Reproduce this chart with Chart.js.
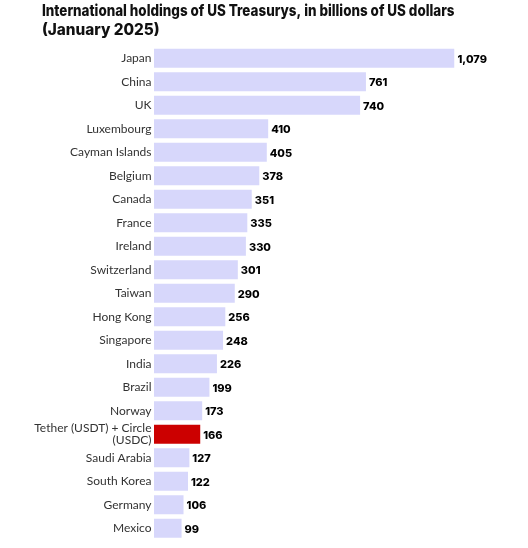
<!DOCTYPE html>
<html>
<head>
<meta charset="utf-8">
<script src="https://cdn.jsdelivr.net/npm/chart.js@4"></script>
<style>
html,body{margin:0;padding:0;background:#fff;}
#wrap{width:528px;height:548px;position:relative;}
</style>
</head>
<body>
<div id="wrap"><canvas id="c"></canvas></div>
<script>
const titleLines = ["International holdings of US Treasurys, in billions of US dollars", "(January 2025)"];
const categories = ["Japan","China","UK","Luxembourg","Cayman Islands","Belgium","Canada","France","Ireland","Switzerland","Taiwan","Hong Kong","Singapore","India","Brazil","Norway",["Tether (USDT) + Circle","(USDC)"],"Saudi Arabia","South Korea","Germany","Mexico"];
const holdings = [1079,761,740,410,405,378,351,335,330,301,290,256,248,226,199,173,166,127,122,106,99];
const highlightIndex = [16];

const barColors = holdings.map((v,i)=> highlightIndex.includes(i) ? '#cc0000' : '#d7d7fb');

const valueLabels = {
  id:'valueLabels',
  afterDatasetsDraw(chart){
    const ctx = chart.ctx;
    const meta = chart.getDatasetMeta(0);
    ctx.save();
    ctx.font = '800 11px Inter, "Noto Sans", sans-serif';
    ctx.fillStyle = '#000';
    ctx.textBaseline = 'middle';
    ctx.textAlign = 'left';
    meta.data.forEach((bar,i)=>{
      ctx.fillText(holdings[i].toLocaleString('en-US'), bar.x + 3, bar.y + 1);
    });
    ctx.restore();
  }
};

const titleIndent = {
  id:'titleIndent',
  afterLayout(chart){ if (chart.titleBlock) chart.titleBlock.left = 42; }
};

new Chart(document.getElementById('c'), {
  type:'bar',
  data:{
    labels:categories,
    datasets:[{data:holdings, backgroundColor:barColors, borderWidth:0, barPercentage:0.81, categoryPercentage:1.0}]
  },
  options:{
    indexAxis:'y',
    responsive:true,
    maintainAspectRatio:false,
    animation:false,
    layout:{padding:{left:0,right:73.5,top:2.5,bottom:8}},
    plugins:{
      legend:{display:false},
      tooltip:{enabled:false},
      title:{display:true,text:titleLines,align:'start',color:'#111',
        font:{family:'Inter, "Noto Sans", sans-serif',size:15.3,weight:'800',lineHeight:1.21},
        padding:{top:0,bottom:7}}
    },
    scales:{
      x:{display:false,min:0,max:1079},
      y:{
        grid:{display:false,drawTicks:false},
        border:{display:false},
        ticks:{color:'#333',font:{family:'Lato, "Noto Sans", sans-serif',size:12,lineHeight:1.0},padding:2.5,autoSkip:false},
        afterFit(scale){scale.width = 154; scale.paddingTop = 0; scale.paddingBottom = 0;}
      }
    }
  },
  plugins:[valueLabels, titleIndent]
});
</script>
</body>
</html>
